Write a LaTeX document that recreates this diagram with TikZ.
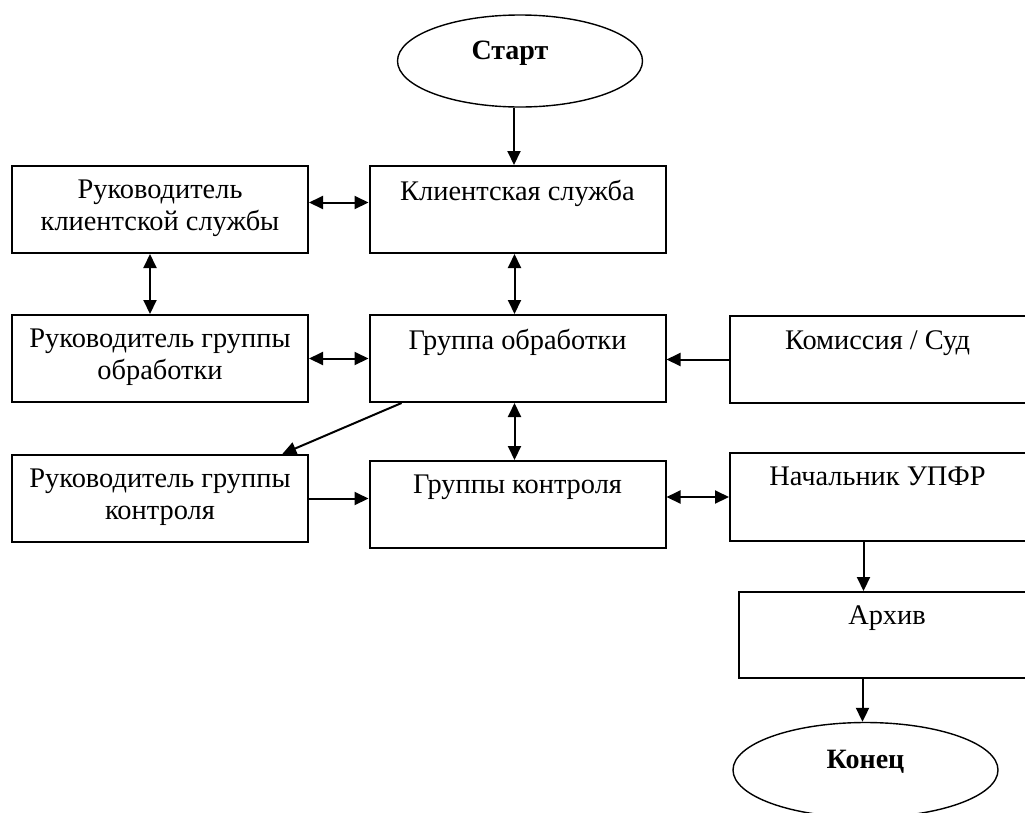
\documentclass[tikz,border=0pt]{standalone}
\usepackage{fontspec}
\setmainfont{Liberation Serif}
\usepackage{tikz}
\usetikzlibrary{arrows.meta,shapes,positioning}
\tikzstyle{box} = [rectangle, draw, line width=2pt, minimum width=296pt, minimum height=87pt, inner sep=0pt]
\tikzstyle{boxtext} = [anchor=north, yshift=-15pt, align=center, inner sep=0pt, font=\fontsize{28.4}{32}\selectfont]
\tikzstyle{oval} = [ellipse, draw, line width=1.4pt, inner sep=0pt]
\tikzstyle{ovaltext} = [inner sep=0pt, font=\fontsize{28}{32}\selectfont\bfseries]
\tikzstyle{arrow} = [line width=2pt, -{Triangle[length=14pt,width=13pt]}]
\tikzstyle{darrow} = [line width=2pt, {Triangle[length=14pt,width=13pt]}-{Triangle[length=14pt,width=13pt]}]

\begin{document}
\begin{tikzpicture}[x=1pt, y=-1pt]
    \useasboundingbox (0,0) rectangle (1025,812);
    \clip (0,0) rectangle (1025,812);

    % start and end
    \node[oval, minimum width=245pt, minimum height=92pt] (start) at (520,61) {};
    \node[ovaltext, xshift=-10pt, yshift=8pt] (start-t) at (start.center) {Старт};
    \node[oval, minimum width=265pt, minimum height=95pt] (finish) at (865.5,770) {};
    \node[ovaltext, yshift=8pt] (finish-t) at (finish.center) {Конец};

    % left column
    \node[box] (clienthead) at (160,209.5) {};
    \node[boxtext] (clienthead-t) at (clienthead.north) {Руководитель\\клиентской службы};
    \node[box] (prochead) at (160,358.5) {};
    \node[boxtext] (prochead-t) at (prochead.north) {Руководитель группы\\обработки};
    \node[box] (controlhead) at (160,498.5) {};
    \node[boxtext] (controlhead-t) at (controlhead.north) {Руководитель группы\\контроля};

    % middle column
    \node[box] (client) at (517.5,209.5) {};
    \node[boxtext] (client-t) at (client.north) {Клиентская служба};
    \node[box] (proc) at (517.5,358.5) {};
    \node[boxtext] (proc-t) at (proc.north) {Группа обработки};
    \node[box] (control) at (517.5,504.5) {};
    \node[boxtext] (control-t) at (control.north) {Группы контроля};

    % right column
    \node[box, minimum width=305pt] (court) at (882.5,359.5) {};
    \node[boxtext, xshift=-5pt] (court-t) at (court.north) {Комиссия / Суд};
    \node[box, minimum width=305pt, minimum height=88pt] (chief) at (882.5,497) {};
    \node[boxtext, xshift=-5pt] (chief-t) at (chief.north) {Начальник УПФР};
    \node[box, minimum width=296pt, minimum height=86pt] (archive) at (887,635) {};
    \node[boxtext] (archive-t) at (archive.north) {Архив};

    % connectors
    \draw[arrow] ([xshift=-6pt]start.south) -- ([xshift=-6pt]start.south |- client.north);
    \draw[darrow] ([yshift=7pt]clienthead.east) -- ([yshift=7pt]client.west);
    \draw[darrow] ([xshift=-10pt]clienthead.south) -- ([xshift=-10pt]prochead.north);
    \draw[darrow] ([xshift=-3pt]client.south) -- ([xshift=-3pt]proc.north);
    \draw[darrow] (prochead.east) -- (proc.west);
    \draw[arrow] (court.west) -- (court.west -| proc.east);
    \draw[arrow] (proc.201.6) -- (controlhead.20.7);
    \draw[darrow] ([xshift=-3pt]proc.south) -- ([xshift=-3pt]proc.south |- control.north);
    \draw[arrow] (controlhead.east) -- (controlhead.east -| control.west);
    \draw[darrow] (chief.west -| control.east) -- (chief.west);
    \draw[arrow] ([xshift=-2pt]chief.south -| finish.north) -- ([xshift=-2pt]archive.north -| finish.north);
    \draw[arrow] ([xshift=-3pt]archive.south -| finish.north) -- ([xshift=-3pt]finish.north);
\end{tikzpicture}
\end{document}
